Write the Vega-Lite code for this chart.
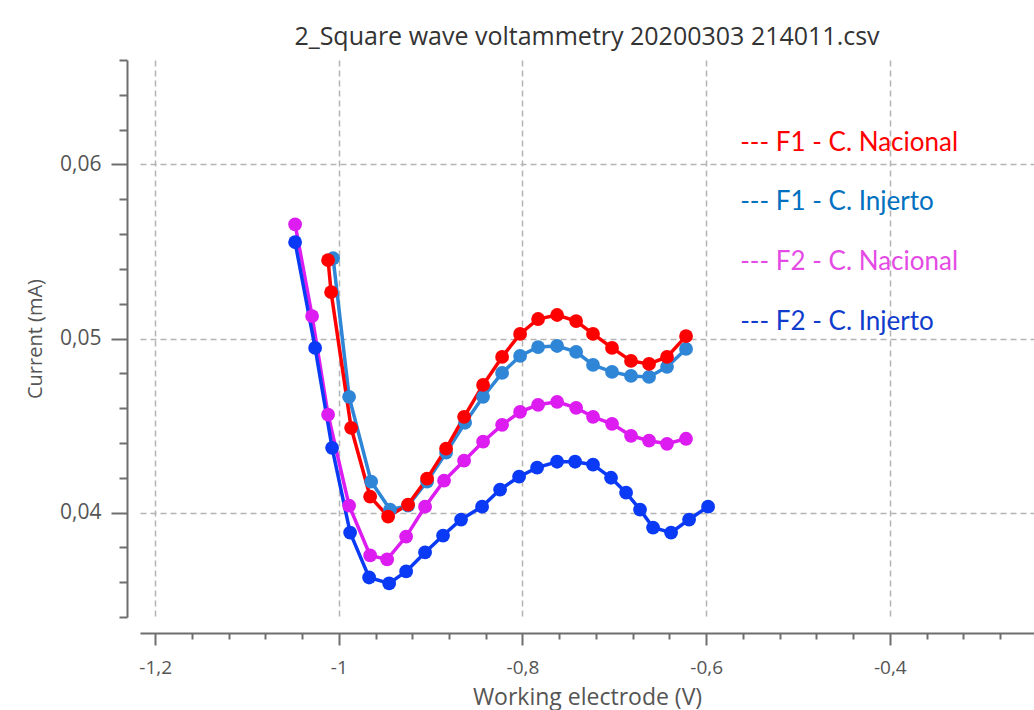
{
  "$schema": "https://vega.github.io/schema/vega-lite/v6.json",
  "width": 894,
  "height": 557,
  "autosize": {"type": "none"},
  "padding": {"left": 140, "top": 60, "right": 0, "bottom": 93},
  "background": "white",
  "title": {
    "text": "2_Square wave voltammetry 20200303 214011.csv",
    "font": "Open Sans",
    "fontSize": 25,
    "fontWeight": "normal",
    "color": "#333333",
    "anchor": "middle",
    "offset": 9
  },
  "datasets": {
    "curves": [
      {"series": "F1 - C. Injerto", "v": -1.0062, "i": 0.05461},
      {"series": "F1 - C. Injerto", "v": -0.9888, "i": 0.04665},
      {"series": "F1 - C. Injerto", "v": -0.9648, "i": 0.04178},
      {"series": "F1 - C. Injerto", "v": -0.9442, "i": 0.04017},
      {"series": "F1 - C. Injerto", "v": -0.9246, "i": 0.04040},
      {"series": "F1 - C. Injerto", "v": -0.9039, "i": 0.04178},
      {"series": "F1 - C. Injerto", "v": -0.8832, "i": 0.04344},
      {"series": "F1 - C. Injerto", "v": -0.8625, "i": 0.04516},
      {"series": "F1 - C. Injerto", "v": -0.8429, "i": 0.04665},
      {"series": "F1 - C. Injerto", "v": -0.8222, "i": 0.04802},
      {"series": "F1 - C. Injerto", "v": -0.8026, "i": 0.04900},
      {"series": "F1 - C. Injerto", "v": -0.7830, "i": 0.04951},
      {"series": "F1 - C. Injerto", "v": -0.7623, "i": 0.04957},
      {"series": "F1 - C. Injerto", "v": -0.7416, "i": 0.04923},
      {"series": "F1 - C. Injerto", "v": -0.7232, "i": 0.04848},
      {"series": "F1 - C. Injerto", "v": -0.7025, "i": 0.04808},
      {"series": "F1 - C. Injerto", "v": -0.6818, "i": 0.04785},
      {"series": "F1 - C. Injerto", "v": -0.6622, "i": 0.04779},
      {"series": "F1 - C. Injerto", "v": -0.6426, "i": 0.04837},
      {"series": "F1 - C. Injerto", "v": -0.6219, "i": 0.04940},
      {"series": "F1 - C. Nacional", "v": -1.0117, "i": 0.05450},
      {"series": "F1 - C. Nacional", "v": -1.0084, "i": 0.05266},
      {"series": "F1 - C. Nacional", "v": -0.9866, "i": 0.04487},
      {"series": "F1 - C. Nacional", "v": -0.9659, "i": 0.04092},
      {"series": "F1 - C. Nacional", "v": -0.9463, "i": 0.03977},
      {"series": "F1 - C. Nacional", "v": -0.9246, "i": 0.04046},
      {"series": "F1 - C. Nacional", "v": -0.9039, "i": 0.04195},
      {"series": "F1 - C. Nacional", "v": -0.8832, "i": 0.04367},
      {"series": "F1 - C. Nacional", "v": -0.8636, "i": 0.04550},
      {"series": "F1 - C. Nacional", "v": -0.8429, "i": 0.04733},
      {"series": "F1 - C. Nacional", "v": -0.8222, "i": 0.04894},
      {"series": "F1 - C. Nacional", "v": -0.8026, "i": 0.05026},
      {"series": "F1 - C. Nacional", "v": -0.7830, "i": 0.05112},
      {"series": "F1 - C. Nacional", "v": -0.7623, "i": 0.05135},
      {"series": "F1 - C. Nacional", "v": -0.7416, "i": 0.05100},
      {"series": "F1 - C. Nacional", "v": -0.7232, "i": 0.05026},
      {"series": "F1 - C. Nacional", "v": -0.7025, "i": 0.04946},
      {"series": "F1 - C. Nacional", "v": -0.6818, "i": 0.04871},
      {"series": "F1 - C. Nacional", "v": -0.6622, "i": 0.04854},
      {"series": "F1 - C. Nacional", "v": -0.6426, "i": 0.04894},
      {"series": "F1 - C. Nacional", "v": -0.6219, "i": 0.05014},
      {"series": "F2 - C. Nacional", "v": -1.0476, "i": 0.05656},
      {"series": "F2 - C. Nacional", "v": -1.0291, "i": 0.05129},
      {"series": "F2 - C. Nacional", "v": -1.0117, "i": 0.04562},
      {"series": "F2 - C. Nacional", "v": -0.9888, "i": 0.04040},
      {"series": "F2 - C. Nacional", "v": -0.9659, "i": 0.03754},
      {"series": "F2 - C. Nacional", "v": -0.9474, "i": 0.03731},
      {"series": "F2 - C. Nacional", "v": -0.9267, "i": 0.03862},
      {"series": "F2 - C. Nacional", "v": -0.9061, "i": 0.04034},
      {"series": "F2 - C. Nacional", "v": -0.8854, "i": 0.04183},
      {"series": "F2 - C. Nacional", "v": -0.8636, "i": 0.04298},
      {"series": "F2 - C. Nacional", "v": -0.8429, "i": 0.04407},
      {"series": "F2 - C. Nacional", "v": -0.8222, "i": 0.04504},
      {"series": "F2 - C. Nacional", "v": -0.8026, "i": 0.04579},
      {"series": "F2 - C. Nacional", "v": -0.7830, "i": 0.04619},
      {"series": "F2 - C. Nacional", "v": -0.7623, "i": 0.04636},
      {"series": "F2 - C. Nacional", "v": -0.7416, "i": 0.04602},
      {"series": "F2 - C. Nacional", "v": -0.7232, "i": 0.04550},
      {"series": "F2 - C. Nacional", "v": -0.7025, "i": 0.04510},
      {"series": "F2 - C. Nacional", "v": -0.6818, "i": 0.04441},
      {"series": "F2 - C. Nacional", "v": -0.6622, "i": 0.04413},
      {"series": "F2 - C. Nacional", "v": -0.6426, "i": 0.04395},
      {"series": "F2 - C. Nacional", "v": -0.6219, "i": 0.04424},
      {"series": "F2 - C. Injerto", "v": -1.0476, "i": 0.05553},
      {"series": "F2 - C. Injerto", "v": -1.0258, "i": 0.04946},
      {"series": "F2 - C. Injerto", "v": -1.0073, "i": 0.04372},
      {"series": "F2 - C. Injerto", "v": -0.9877, "i": 0.03885},
      {"series": "F2 - C. Injerto", "v": -0.9670, "i": 0.03627},
      {"series": "F2 - C. Injerto", "v": -0.9452, "i": 0.03593},
      {"series": "F2 - C. Injerto", "v": -0.9267, "i": 0.03662},
      {"series": "F2 - C. Injerto", "v": -0.9061, "i": 0.03771},
      {"series": "F2 - C. Injerto", "v": -0.8865, "i": 0.03868},
      {"series": "F2 - C. Injerto", "v": -0.8669, "i": 0.03960},
      {"series": "F2 - C. Injerto", "v": -0.8440, "i": 0.04034},
      {"series": "F2 - C. Injerto", "v": -0.8244, "i": 0.04132},
      {"series": "F2 - C. Injerto", "v": -0.8037, "i": 0.04206},
      {"series": "F2 - C. Injerto", "v": -0.7841, "i": 0.04258},
      {"series": "F2 - C. Injerto", "v": -0.7623, "i": 0.04292},
      {"series": "F2 - C. Injerto", "v": -0.7427, "i": 0.04292},
      {"series": "F2 - C. Injerto", "v": -0.7232, "i": 0.04275},
      {"series": "F2 - C. Injerto", "v": -0.7036, "i": 0.04200},
      {"series": "F2 - C. Injerto", "v": -0.6872, "i": 0.04114},
      {"series": "F2 - C. Injerto", "v": -0.6720, "i": 0.04017},
      {"series": "F2 - C. Injerto", "v": -0.6578, "i": 0.03914},
      {"series": "F2 - C. Injerto", "v": -0.6382, "i": 0.03885},
      {"series": "F2 - C. Injerto", "v": -0.6186, "i": 0.03960},
      {"series": "F2 - C. Injerto", "v": -0.5979, "i": 0.04034}
    ],
    "legend": [
      {"series": "F1 - C. Nacional", "label": "--- F1 - C. Nacional", "v": -0.563, "i": 0.06126},
      {"series": "F1 - C. Injerto", "label": "--- F1 - C. Injerto", "v": -0.563, "i": 0.05782},
      {"series": "F2 - C. Nacional", "label": "--- F2 - C. Nacional", "v": -0.563, "i": 0.05438},
      {"series": "F2 - C. Injerto", "label": "--- F2 - C. Injerto", "v": -0.563, "i": 0.05095}
    ]
  },
  "encoding": {
    "x": {
      "field": "v",
      "type": "quantitative",
      "scale": {"domain": [-1.2165, -0.243], "nice": false, "zero": false},
      "axis": {
        "title": "Working electrode (V)",
        "titleFontSize": 23,
        "labelFontSize": 19,
        "offset": 16,
        "values": [-1.2, -1.16, -1.12, -1.08, -1.04, -1, -0.96, -0.92, -0.88, -0.84, -0.8, -0.76, -0.72, -0.68, -0.64, -0.6, -0.56, -0.52, -0.48, -0.44, -0.4, -0.36, -0.32, -0.28],
        "labelExpr": "abs(datum.value*5 - round(datum.value*5)) < 0.001 ? replace(datum.value + '', '.', ',') : ''",
        "tickSize": {"condition": {"test": "abs(datum.value*5 - round(datum.value*5)) < 0.001", "value": 12}, "value": 6},
        "gridOpacity": {"condition": {"test": "abs(datum.value*5 - round(datum.value*5)) < 0.001", "value": 1}, "value": 0},
        "labelPadding": 13,
        "titlePadding": 9
      }
    },
    "y": {
      "field": "i",
      "type": "quantitative",
      "scale": {"domain": [0.034, 0.066], "nice": false, "zero": false},
      "axis": {
        "title": "Current (mA)",
        "titleFontSize": 20,
        "labelFontSize": 21,
        "offset": 13,
        "values": [0.034, 0.036, 0.038, 0.04, 0.042, 0.044, 0.046, 0.048, 0.05, 0.052, 0.054, 0.056, 0.058, 0.06, 0.062, 0.064, 0.066],
        "labelExpr": "abs(datum.value*100 - round(datum.value*100)) < 0.001 ? replace(datum.value + '', '.', ',') : ''",
        "tickSize": {"condition": {"test": "abs(datum.value*100 - round(datum.value*100)) < 0.001", "value": 16}, "value": 8},
        "gridOpacity": {"condition": {"test": "abs(datum.value*100 - round(datum.value*100)) < 0.001", "value": 1}, "value": 0},
        "labelPadding": 10,
        "titlePadding": 14
      }
    }
  },
  "layer": [
    {
      "data": {"name": "curves"},
      "mark": {"type": "line", "strokeWidth": 3.5},
      "encoding": {
        "color": {"field": "series", "type": "nominal", "legend": null,
          "scale": {"domain": ["F1 - C. Nacional", "F1 - C. Injerto", "F2 - C. Nacional", "F2 - C. Injerto"],
                    "range": ["#ff0000", "#2f86d6", "#dc1cf0", "#0a3af5"]}}
      }
    },
    {
      "data": {"name": "curves"},
      "mark": {"type": "circle", "size": 190, "opacity": 1},
      "encoding": {
        "color": {"field": "series", "type": "nominal", "legend": null,
          "scale": {"domain": ["F1 - C. Nacional", "F1 - C. Injerto", "F2 - C. Nacional", "F2 - C. Injerto"],
                    "range": ["#ff0000", "#2f86d6", "#dc1cf0", "#0a3af5"]}}
      }
    },
    {
      "data": {"name": "legend"},
      "mark": {"type": "text", "align": "left", "baseline": "middle", "font": "Lato", "fontSize": 26},
      "encoding": {
        "text": {"field": "label"},
        "color": {"field": "series", "type": "nominal", "legend": null,
          "scale": {"domain": ["F1 - C. Nacional", "F1 - C. Injerto", "F2 - C. Nacional", "F2 - C. Injerto"],
                    "range": ["#ff0000", "#0070c0", "#e44be4", "#0f3ccc"]}}
      }
    }
  ],
  "resolve": {"scale": {"color": "independent"}},
  "config": {
    "view": {"stroke": null},
    "axis": {
      "labelFont": "Open Sans",
      "labelColor": "#555555",
      "titleFont": "Open Sans",
      "titleFontWeight": "normal",
      "titleColor": "#555555",
      "domainColor": "#6e6e6e",
      "domainWidth": 2,
      "tickColor": "#6e6e6e",
      "tickWidth": 2,
      "gridColor": "#b4b4b4",
      "gridDash": [6, 4],
      "gridWidth": 1.5
    }
  }
}
